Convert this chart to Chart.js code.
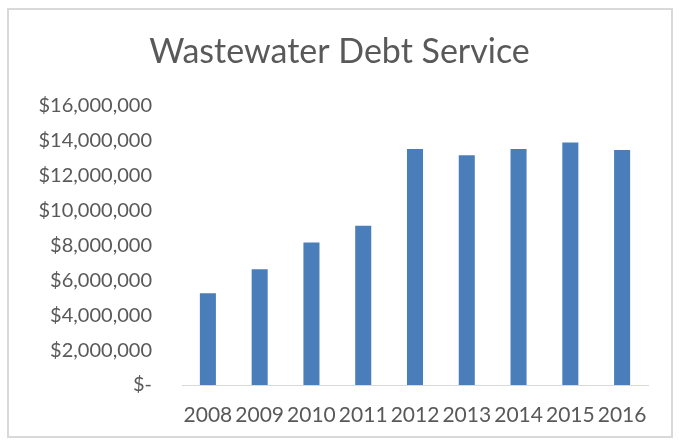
<!DOCTYPE html>
<html>
<head>
<meta charset="utf-8">
<script src="https://cdn.jsdelivr.net/npm/chart.js@4/dist/chart.umd.min.js"></script>
<style>
  html, body { margin: 0; padding: 0; background: #fff; }
  #box {
    position: absolute; left: 7px; top: 8px;
    width: 666px; height: 430px;
    border: 2px solid #d9d9d9; box-sizing: border-box;
  }
  #chart { display: block; }
</style>
</head>
<body>
<div id="box"><canvas id="chart" width="662" height="426"></canvas></div>
<script>
// fiscal years
var years = ['2008','2009','2010','2011','2012','2013','2014','2015','2016'];
// debt service, dollars
var debtService = [5260000, 6630000, 8170000, 9130000, 13530000, 13160000, 13530000, 13900000, 13470000];
// y axis range
var yMin = 0, yMax = 16000000, yStep = 2000000;

var grey = '#595959';
var font = 'Lato, "Open Sans", sans-serif';

function draw() {
  var ctx = document.getElementById('chart').getContext('2d');
  var myChart = new Chart(ctx, {
    type: 'bar',
    data: {
      labels: years,
      datasets: [{
        label: 'Debt Service',
        data: debtService,
        backgroundColor: '#4a7ebb',
        categoryPercentage: 1.0,
        barPercentage: 0.31,
      }],
    },
    options: {
      responsive: false,
      animation: false,
      layout: { padding: { left: 22, right: 23, top: 0, bottom: 7 } },
      plugins: {
        legend: { display: false },
        tooltip: { enabled: false },
        title: {
          display: true,
          text: 'Wastewater Debt Service',
          color: grey,
          font: { family: font, size: 34, weight: 'normal' },
          padding: { top: 22, bottom: 33 },
        },
      },
      scales: {
        x: {
          grid: { display: false, drawTicks: false },
          border: { color: '#d9d9d9', width: 1 },
          afterFit: function (scale) {
            scale.height = 44;
          },
          ticks: {
            color: grey,
            font: { family: font, size: 21 },
            autoSkip: false,
            maxRotation: 0,
            padding: 18,
          },
        },
        y: {
          min: yMin,
          max: yMax,
          grid: { display: false, drawTicks: false },
          border: { display: false },
          afterFit: function (scale) {
            // fixed label column width, no extra overhang padding
            scale.width = 151;
            scale.paddingTop = 0;
            scale.paddingBottom = 0;
          },
          ticks: {
            stepSize: yStep,
            color: grey,
            font: { family: font, size: 20 },
            padding: 30,
            callback: function (v) {
              if (v === 0) return '$-';
              return '$' + v.toLocaleString('en-US');
            },
          },
        },
      },
    },
  });
}

Promise.all([
  document.fonts.load('20px Lato'),
  document.fonts.load('34px Lato'),
]).then(draw, draw);
</script>
</body>
</html>
